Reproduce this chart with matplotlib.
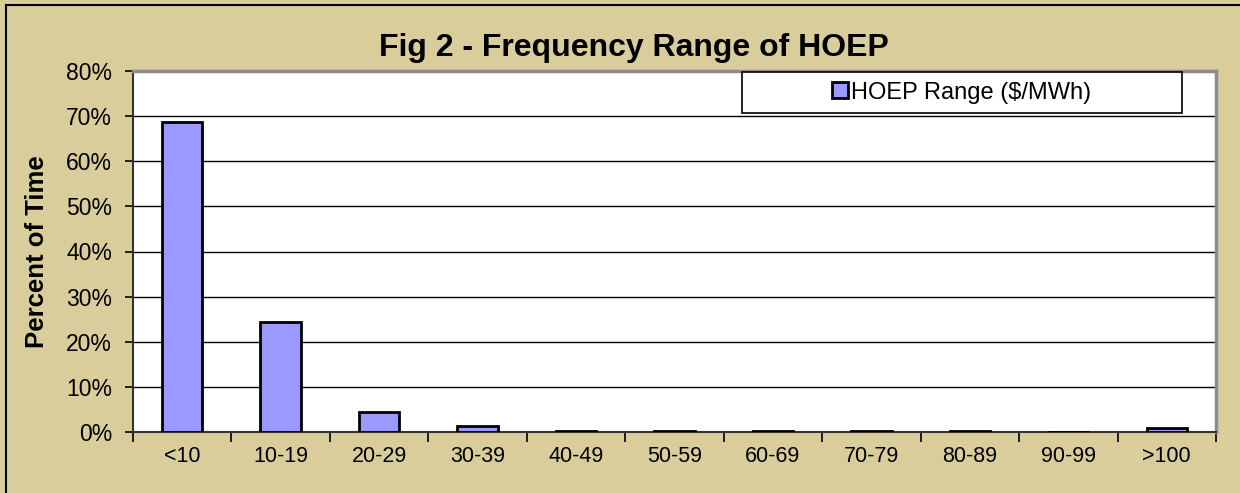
import numpy as np
import matplotlib.pyplot as plt
from matplotlib.patches import Rectangle
from matplotlib.lines import Line2D
from matplotlib.ticker import FuncFormatter, FixedLocator

plt.rcParams['font.family'] = ['Liberation Sans', 'DejaVu Sans']

# data
ranges = ['<10', '10-19', '20-29', '30-39', '40-49', '50-59',
          '60-69', '70-79', '80-89', '90-99', '>100']
pct = [68.7, 24.4, 4.5, 1.4, 0.3, 0.3, 0.2, 0.2, 0.2, 0.0, 0.8]
y_ticks = [0, 10, 20, 30, 40, 50, 60, 70, 80]

bg = '#D8CD9B'
bar_col = '#9999FF'

fig = plt.figure(figsize=(12.4, 4.93), dpi=100, facecolor=bg)
ax = fig.add_axes([133 / 1240, 1 - 432 / 493, (1216 - 133) / 1240, (432 - 71) / 493])
ax.set_facecolor('white')

x = np.arange(len(ranges))
ax.bar(x, pct, width=0.41, color=bar_col, edgecolor='black', linewidth=2.0,
       label='HOEP Range ($/MWh)', zorder=3)

ax.set_xlim(-0.5, len(ranges) - 0.5)
ax.set_ylim(0, 80)
ax.yaxis.set_major_locator(FixedLocator(y_ticks))
ax.yaxis.set_major_formatter(FuncFormatter(lambda v, p: f'{v:.0f}%'))
ax.grid(axis='y', color='black', linewidth=1.0, zorder=0)

ax.set_xticks(x)
ax.set_xticklabels(ranges)
ax.set_xticks(np.arange(len(ranges) + 1) - 0.5, minor=True)
ax.tick_params(axis='x', which='major', length=0, pad=10, labelsize=15.5)
ax.tick_params(axis='x', which='minor', length=7, width=1.2, direction='out', color='black')
ax.tick_params(axis='y', length=6, width=1.2, direction='out', labelsize=16.5, pad=9)

for side in ['top', 'right']:
    ax.spines[side].set_color('#8C8C8C')
    ax.spines[side].set_linewidth(2.5)
for side in ['left', 'bottom']:
    ax.spines[side].set_color('#333333')
    ax.spines[side].set_linewidth(1.5)

ax.set_ylabel('Percent of Time', fontsize=18.5, fontweight='bold', va='center')
ax.yaxis.set_label_coords(-(133 - 37) / (1216 - 133), 0.5)
fig.text(0.511, 1 - 48 / 493, 'Fig 2 - Frequency Range of HOEP', ha='center', va='center',
         fontsize=23, fontweight='bold')

# legend box
lx0, lx1, ly0, ly1 = 742 / 1240, 1182 / 1240, 1 - 113 / 493, 1 - 72 / 493
fig.patches.append(Rectangle((lx0, ly0), lx1 - lx0, ly1 - ly0, transform=fig.transFigure,
                             facecolor='white', edgecolor='black', linewidth=1.2, zorder=5))
leg = fig.legend(loc='center', bbox_to_anchor=((lx0 + lx1) / 2, (ly0 + ly1) / 2),
                 frameon=False, fontsize=17, handlelength=0.65, handleheight=0.65,
                 handletextpad=0.15, borderpad=0)
leg.set_zorder(6)

# outer chart border (cropped on the right and bottom)
fig.add_artist(Line2D([6 / 1240, 6 / 1240], [0, 1 - 5 / 493], transform=fig.transFigure,
                      color='black', linewidth=1.5))
fig.add_artist(Line2D([6 / 1240, 1], [1 - 5 / 493, 1 - 5 / 493], transform=fig.transFigure,
                      color='black', linewidth=1.5))

fig.savefig('out.png', dpi=100, facecolor=bg)
